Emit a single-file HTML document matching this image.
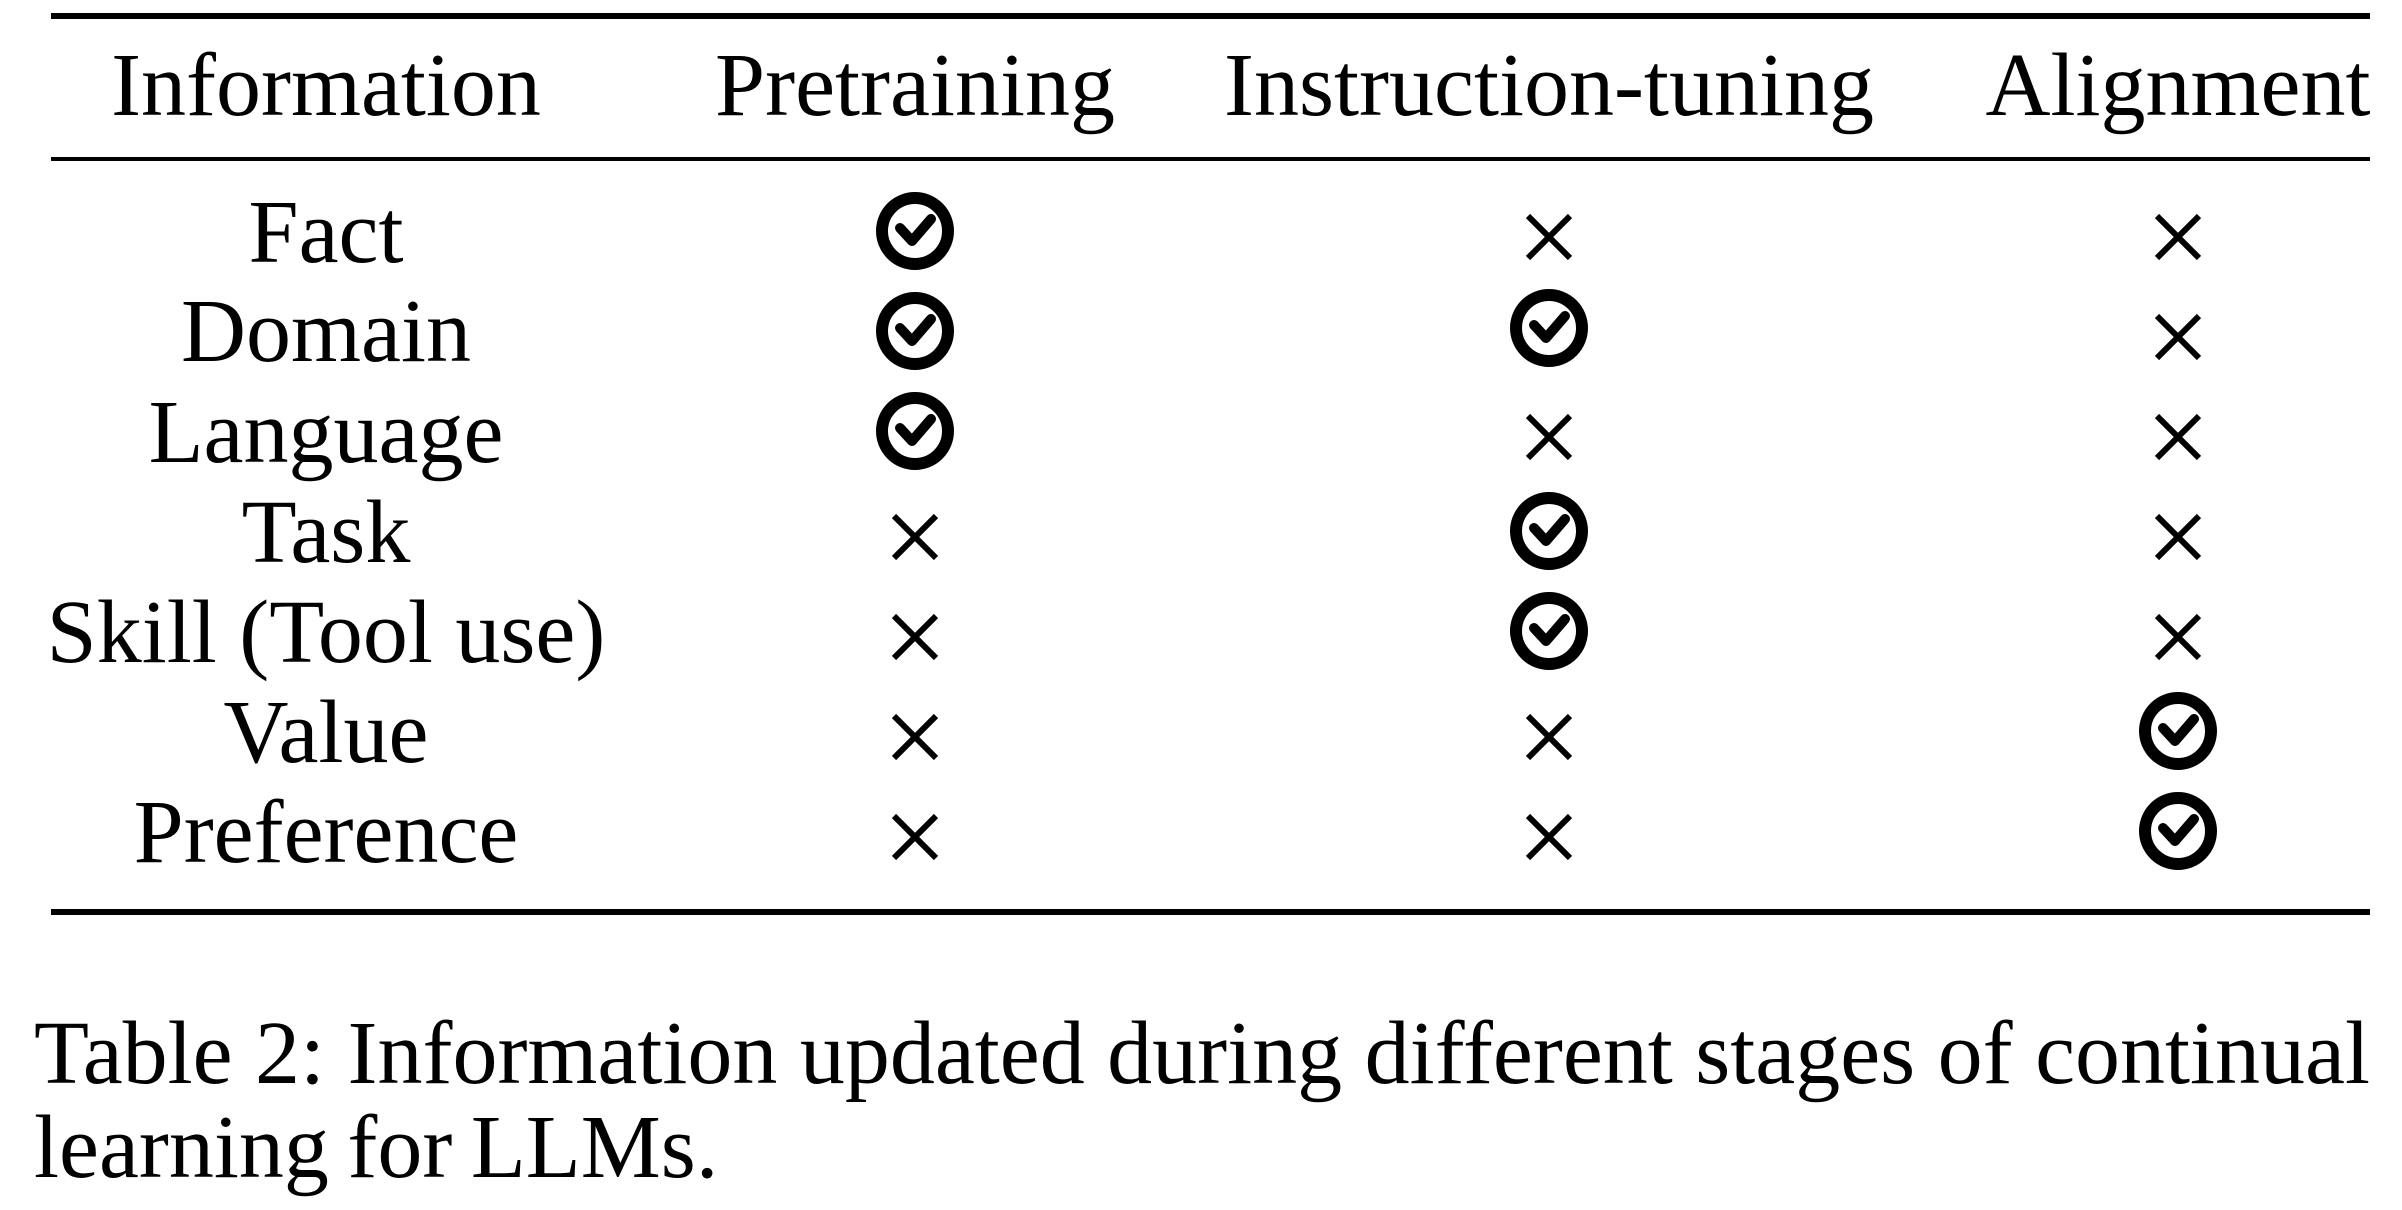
<!DOCTYPE html>
<html><head><meta charset="utf-8"><style>
html,body{margin:0;padding:0;background:#fff;}
body{width:2402px;height:1210px;position:relative;overflow:hidden;font-family:"Liberation Serif",serif;color:#000;}
.r{position:absolute;left:51px;width:2319px;background:#000;}
.t{position:absolute;font-size:90px;line-height:1;white-space:nowrap;transform:translate(-50%,-50%);}
svg{position:absolute;left:0;top:0;}
.cap{position:absolute;left:34px;width:2336px;font-size:90px;line-height:94px;text-align:justify;text-align-last:left;top:1007px;word-spacing:-4px;}
</style></head><body>
<div class="r" style="top:13px;height:6px"></div>
<div class="r" style="top:157px;height:4px"></div>
<div class="r" style="top:909px;height:6px"></div>

<div class="t" style="left:326px;top:86px">Information</div>
<div class="t" style="left:915px;top:86px">Pretraining</div>
<div class="t" style="left:1549px;top:86px">Instruction-tuning</div>
<div class="t" style="left:2178px;top:86px">Alignment</div>

<div class="t" style="left:326px;top:233px">Fact</div>
<div class="t" style="left:326px;top:332px">Domain</div>
<div class="t" style="left:326px;top:433px">Language</div>
<div class="t" style="left:326px;top:533px">Task</div>
<div class="t" style="left:326px;top:633px">Skill (Tool use)</div>
<div class="t" style="left:326px;top:733px">Value</div>
<div class="t" style="left:326px;top:833px">Preference</div>

<svg width="2402" height="1210">
<defs>
<g id="ck"><circle cx="0" cy="0" r="33" fill="none" stroke="#000" stroke-width="12"/><polyline points="-15,-3 -3,10 16,-12" fill="none" stroke="#000" stroke-width="10" stroke-linejoin="round" stroke-linecap="round"/></g>
<g id="x"><path d="M-21,-21L21,21M21,-21L-21,21" stroke="#000" stroke-width="6"/></g>
</defs>
<use href="#ck" x="915" y="231"/><use href="#x" x="1549" y="237"/><use href="#x" x="2178" y="237"/>
<use href="#ck" x="915" y="331"/><use href="#ck" x="1549" y="328"/><use href="#x" x="2178" y="337"/>
<use href="#ck" x="915" y="431"/><use href="#x" x="1549" y="437"/><use href="#x" x="2178" y="437"/>
<use href="#x" x="915" y="537"/><use href="#ck" x="1549" y="531"/><use href="#x" x="2178" y="537"/>
<use href="#x" x="915" y="637"/><use href="#ck" x="1549" y="631"/><use href="#x" x="2178" y="637"/>
<use href="#x" x="915" y="737"/><use href="#x" x="1549" y="737"/><use href="#ck" x="2178" y="731"/>
<use href="#x" x="915" y="837"/><use href="#x" x="1549" y="837"/><use href="#ck" x="2178" y="831"/>
</svg>

<div class="cap">Table 2: Information updated during different stages of continual learning for LLMs.</div>
</body></html>
